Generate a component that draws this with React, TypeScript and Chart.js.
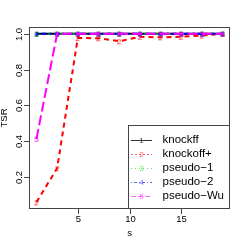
import React, { useEffect, useRef } from "react";
import { Chart, registerables } from "chart.js";

Chart.register(...registerables);

const sValues = [1, 3, 5, 7, 9, 11, 13, 15, 17, 19];
const knockff = [1, 1, 1, 1, 1, 1, 1, 1, 1, 1];
const knockoffPlus = [0.06, 0.25, 0.976, 0.975, 0.958, 0.983, 0.98, 0.983, 0.99, 1.0];
const pseudo1 = [1, 1, 1, 1, 1, 1, 1, 1, 1, 1];
const pseudo2 = [1, 1, 1, 1, 1, 1, 1, 1, 1, 1];
const pseudoWu = [0.413, 1, 1, 1, 1, 1, 1, 1, 1, 1];
const seriesNames = ["knockff", "knockoff+", "pseudo\u22121", "pseudo\u22122", "pseudo\u2212Wu"];
const seriesSymbols = ["1", "2", "3", "4", "5"];
const seriesColors = ["#000000", "#FF0000", "#00CD00", "#0000FF", "#FF00FF"];
const seriesDashes: number[][] = [[], [5, 4], [2, 4], [2, 3, 5, 3], [10, 4]];
const legendDashes: number[][] = [[], [2, 2], [1, 3], [1, 2, 3, 2], [5, 2]];
const xTicks = [5, 10, 15];
const yTicks = [0.2, 0.4, 0.6, 0.8, 1.0];
const xTitle = "s";
const yTitle = "TSR";

const FONT = "'Liberation Sans', Arial, Helvetica, sans-serif";

function makeSymbol(ch: string, color: string) {
  const c = document.createElement("canvas");
  c.width = 8;
  c.height = 10;
  const ctx = c.getContext("2d")!;
  ctx.fillStyle = color;
  ctx.font = `8px ${FONT}`;
  ctx.textAlign = "center";
  ctx.textBaseline = "middle";
  ctx.fillText(ch, 4, 5.5);
  return c;
}

const rAxesPlugin = {
  id: "rAxes",
  afterDraw(chart: any) {
    const ctx = chart.ctx;
    const { left, right, top, bottom } = chart.chartArea;
    const xs = chart.scales.x;
    const ys = chart.scales.y;
    ctx.save();
    ctx.strokeStyle = "#444";
    ctx.lineWidth = 1;
    ctx.setLineDash([]);
    ctx.strokeRect(left + 0.5, top + 0.5, right - left - 1, bottom - top - 1);
    ctx.fillStyle = "#000";
    ctx.font = `9.5px ${FONT}`;
    // x ticks
    ctx.textAlign = "center";
    ctx.textBaseline = "middle";
    xTicks.forEach((v) => {
      const px = Math.round(xs.getPixelForValue(v)) + 0.5;
      ctx.beginPath();
      ctx.moveTo(px, bottom);
      ctx.lineTo(px, bottom + 5);
      ctx.stroke();
      ctx.fillText(String(v), px, bottom + 10.5);
    });
    // y ticks
    yTicks.forEach((v) => {
      const py = Math.round(ys.getPixelForValue(v)) + 0.5;
      ctx.beginPath();
      ctx.moveTo(left - 5, py);
      ctx.lineTo(left, py);
      ctx.stroke();
      ctx.save();
      ctx.translate(left - 9.5, py);
      ctx.rotate(-Math.PI / 2);
      ctx.fillText(v.toFixed(1), 0, 0);
      ctx.restore();
    });
    // titles
    ctx.fillText(xTitle, (left + right) / 2, bottom + 24);
    ctx.save();
    ctx.translate(left - 24.5, (top + bottom) / 2);
    ctx.rotate(-Math.PI / 2);
    ctx.fillText(yTitle, 0, 0);
    ctx.restore();

    // legend
    const lx = 128.5;
    const ly = 125.5;
    ctx.fillStyle = "#fff";
    ctx.fillRect(lx, ly, right - lx, bottom - ly);
    ctx.strokeStyle = "#444";
    ctx.strokeRect(lx, ly, right - 0.5 - lx, bottom - 0.5 - ly);
    ctx.textBaseline = "middle";
    seriesNames.forEach((name, i) => {
      const y = 139.5 + i * 14.1;
      ctx.strokeStyle = seriesColors[i];
      ctx.globalAlpha = i === 0 ? 0.8 : 0.6;
      ctx.lineWidth = 1;
      ctx.setLineDash(legendDashes[i]);
      ctx.beginPath();
      ctx.moveTo(131, Math.round(y) + 0.5);
      ctx.lineTo(152, Math.round(y) + 0.5);
      ctx.stroke();
      ctx.setLineDash([]);
      ctx.fillStyle = seriesColors[i];
      ctx.font = `8px ${FONT}`;
      ctx.textAlign = "center";
      ctx.fillText(seriesSymbols[i], 141.5, y + 1);
      ctx.globalAlpha = 1;
      ctx.fillStyle = "#000";
      ctx.font = `11.5px ${FONT}`;
      ctx.textAlign = "left";
      ctx.fillText(name, 162.5, y);
    });
    ctx.restore();
  },
};

export default function App() {
  const ref = useRef<HTMLCanvasElement>(null);
  useEffect(() => {
    document.body.style.margin = "0";
    const series = [knockff, knockoffPlus, pseudo1, pseudo2, pseudoWu];
    const datasets = series.map((vals, i) => ({
      label: seriesNames[i],
      data: vals.map((y, j) => ({ x: sValues[j], y })),
      borderColor: seriesColors[i],
      backgroundColor: seriesColors[i],
      borderWidth: 2,
      borderDash: seriesDashes[i],
      pointStyle: makeSymbol(seriesSymbols[i], seriesColors[i]),
      pointRadius: 3,
      tension: 0,
      fill: false,
      order: series.length - 1 - i,
    }));
    const chart = new Chart(ref.current!, {
      type: "line",
      data: { datasets },
      options: {
        responsive: false,
        animation: false,
        devicePixelRatio: 1,
        layout: { padding: { left: 29, top: 27, right: 15, bottom: 36 } },
        plugins: { legend: { display: false }, tooltip: { enabled: false } },
        scales: {
          x: { type: "linear", min: 0.28, max: 19.72, display: false },
          y: { type: "linear", min: 0.0224, max: 1.0376, display: false },
        },
      },
      plugins: [rAxesPlugin],
    } as any);
    return () => chart.destroy();
  }, []);
  return (
    <div style={{ position: "absolute", left: 0, top: 0, width: 245, height: 245, background: "#fff" }}>
      <canvas ref={ref} width={245} height={245} style={{ width: 245, height: 245 }} />
    </div>
  );
}
